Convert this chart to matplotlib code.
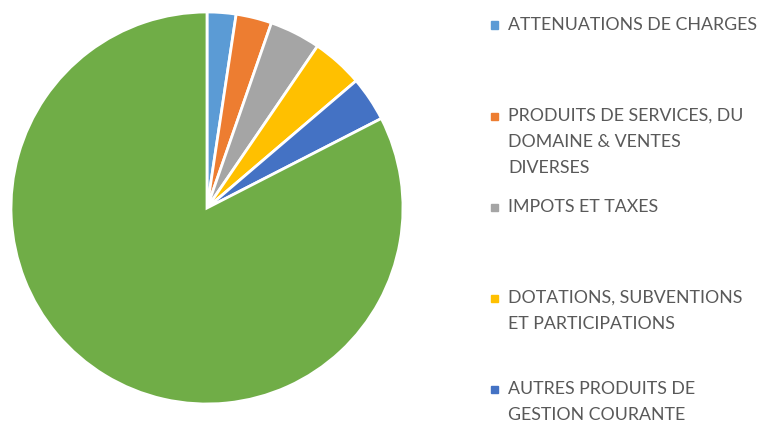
import matplotlib
matplotlib.use('Agg')
import matplotlib.pyplot as plt

labels = ['ATTENUATIONS DE CHARGES',
          'PRODUITS DE SERVICES, DU\nDOMAINE & VENTES\nDIVERSES',
          'IMPOTS ET TAXES',
          'DOTATIONS, SUBVENTIONS\nET PARTICIPATIONS',
          'AUTRES PRODUITS DE\nGESTION COURANTE',
          'AUTRES']
values = [2.38, 2.95, 4.2, 4.23, 3.69, 82.55]
colors = ['#5B9BD5', '#ED7D31', '#A5A5A5', '#FFC000', '#4472C4', '#70AD47']

plt.rcParams['font.family'] = ['Lato', 'DejaVu Sans']

fig = plt.figure(figsize=(7.74, 4.26), dpi=100)
ax = fig.add_axes([11/774, 22/426, 392/774, 392/426])
ax.pie(values, colors=colors, startangle=90, counterclock=False,
       wedgeprops={'edgecolor': 'white', 'linewidth': 2})
ax.set_xlim(-1, 1)
ax.set_ylim(-1, 1)
ax.set_aspect('equal')

# legend, only the first five entries like the original
for i, lab in enumerate(labels[:5]):
    y0 = 25 + 91 * i
    fig.patches.append(plt.Rectangle((491/774, 1 - (y0 + 3.5)/426), 7/774, 7/426,
                                     transform=fig.transFigure, color=colors[i]))
    for j, line in enumerate(lab.split('\n')):
        fig.text(508/774, 1 - (y0 + 26 * j)/426, line, fontsize=12.8,
                 color='#595959', va='center')

fig.savefig('out.png', dpi=100)
